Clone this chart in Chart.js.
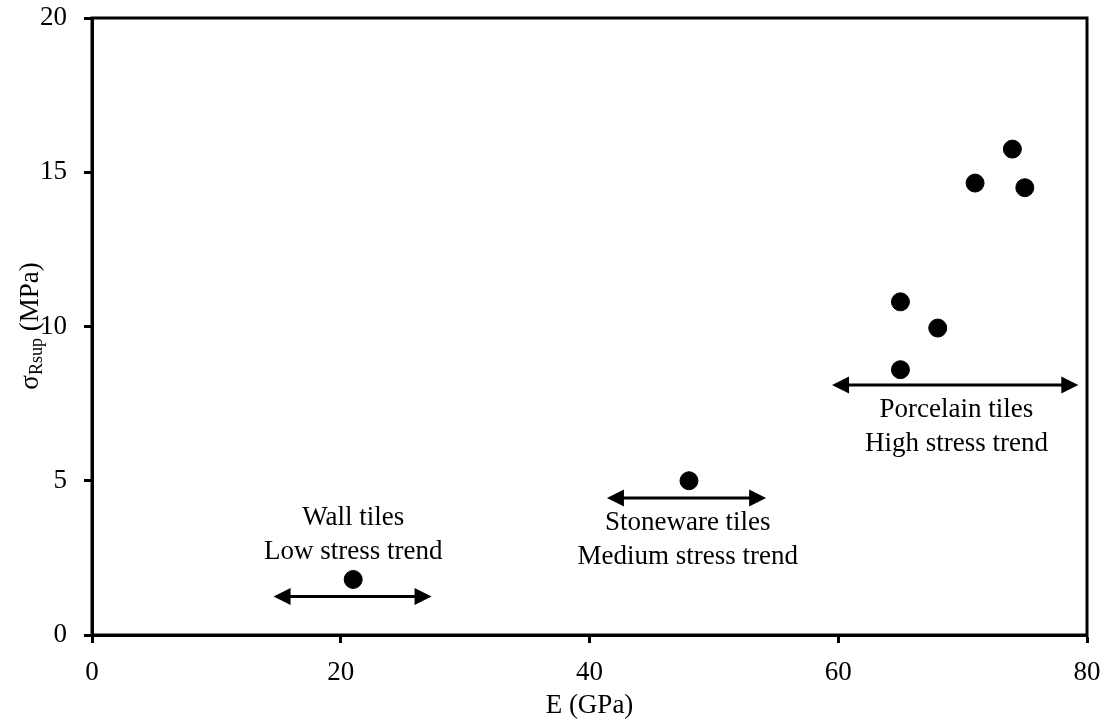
<!DOCTYPE html>
<html>
<head>
<meta charset="utf-8">
<script src="https://cdn.jsdelivr.net/npm/chart.js@4/dist/chart.umd.min.js"></script>
<style>
  body { margin: 0; background: #fff; }
  #wrap { width: 1107px; height: 722px; position: relative; }
</style>
</head>
<body>
<div id="wrap"><canvas id="chart"></canvas></div>
<script>
// measured points: E (GPa) vs sigma Rsup (MPa)
const eValues = [21, 48, 65, 65, 68, 71, 74, 75];
const stressValues = [1.8, 5.0, 8.6, 10.8, 9.95, 14.65, 15.75, 14.5];

// tile classes: double arrows and their captions
const groupLines = [
    ["Wall tiles", "Low stress trend"],
    ["Stoneware tiles", "Medium stress trend"],
    ["Porcelain tiles", "High stress trend"]
];
const arrowFrom = [14.6, 41.4, 59.5];
const arrowTo = [27.3, 54.2, 79.3];
const arrowLevel = [1.25, 4.44, 8.1];
const captionX = [21, 47.9, 69.5];
const captionY = [3.79, 3.63, 7.29];

const FONT = "'Liberation Serif', 'Times New Roman', serif";

// draws the box, the arrows, the captions and the y title
const extras = {
    id: "extras",
    afterDatasetsDraw(chart) {
        const ctx = chart.ctx;
        const x = chart.scales.x, y = chart.scales.y;
        const a = chart.chartArea;
        ctx.save();
        ctx.strokeStyle = "#000";
        ctx.fillStyle = "#000";
        ctx.lineWidth = 3;
        ctx.strokeRect(a.left, a.top, a.right - a.left, a.bottom - a.top);

        for (let i = 0; i < groupLines.length; i++) {
            const x1 = x.getPixelForValue(arrowFrom[i]);
            const x2 = x.getPixelForValue(arrowTo[i]);
            const yy = y.getPixelForValue(arrowLevel[i]);
            const head = 17, half = 8.5;
            ctx.beginPath();
            ctx.moveTo(x1 + head - 2, yy);
            ctx.lineTo(x2 - head + 2, yy);
            ctx.stroke();
            ctx.beginPath();
            ctx.moveTo(x1, yy);
            ctx.lineTo(x1 + head, yy - half);
            ctx.lineTo(x1 + head, yy + half);
            ctx.closePath();
            ctx.fill();
            ctx.beginPath();
            ctx.moveTo(x2, yy);
            ctx.lineTo(x2 - head, yy - half);
            ctx.lineTo(x2 - head, yy + half);
            ctx.closePath();
            ctx.fill();

            ctx.font = "27px " + FONT;
            ctx.textAlign = "center";
            ctx.textBaseline = "middle";
            const cx = x.getPixelForValue(captionX[i]);
            const cy = y.getPixelForValue(captionY[i]);
            groupLines[i].forEach((t, k) => ctx.fillText(t, cx, cy + k * 34));
        }

        // y axis title with subscript
        ctx.translate(38, 326);
        ctx.rotate(-Math.PI / 2);
        ctx.textBaseline = "alphabetic";
        ctx.textAlign = "left";
        const big = "27px " + FONT, small = "18px " + FONT;
        ctx.font = big;
        const w1 = ctx.measureText("σ").width;
        const w3 = ctx.measureText(" (MPa)").width;
        ctx.font = small;
        const w2 = ctx.measureText("Rsup").width;
        let px = -(w1 + w2 + w3) / 2;
        ctx.font = big;
        ctx.fillText("σ", px, 0);
        px += w1;
        ctx.font = small;
        ctx.fillText("Rsup", px, 4);
        px += w2;
        ctx.font = big;
        ctx.fillText(" (MPa)", px, 0);
        ctx.restore();
    }
};

new Chart(document.getElementById("chart"), {
    type: "scatter",
    data: {
        datasets: [{
            data: eValues.map((v, i) => ({ x: v, y: stressValues[i] })),
            backgroundColor: "#000",
            borderColor: "#000",
            pointRadius: 9,
            pointHoverRadius: 9
        }]
    },
    options: {
        responsive: true,
        maintainAspectRatio: false,
        animation: false,
        layout: { padding: { top: 18, right: 20, left: 0, bottom: 0 } },
        plugins: { legend: { display: false }, tooltip: { enabled: false } },
        scales: {
            x: {
                min: 0, max: 80,
                afterFit: s => { s.height = 87; s.paddingLeft = 0; s.paddingRight = 0; },
                ticks: { stepSize: 20, color: "#000", padding: 14, font: { family: FONT, size: 27 } },
                grid: { drawOnChartArea: false, tickLength: 8, tickColor: "#000", tickWidth: 3 },
                border: { color: "#000", width: 3 },
                title: { display: true, text: "E (GPa)", color: "#000", padding: { top: 0, bottom: 0 }, font: { family: FONT, size: 27 } }
            },
            y: {
                min: 0, max: 20,
                afterFit: s => { s.width = 92; s.paddingTop = 0; s.paddingBottom = 0; },
                ticks: { stepSize: 5, color: "#000", padding: 17, font: { family: FONT, size: 27 } },
                grid: { drawOnChartArea: false, tickLength: 8, tickColor: "#000", tickWidth: 3 },
                border: { color: "#000", width: 3 }
            }
        }
    },
    plugins: [extras]
});
</script>
</body>
</html>
